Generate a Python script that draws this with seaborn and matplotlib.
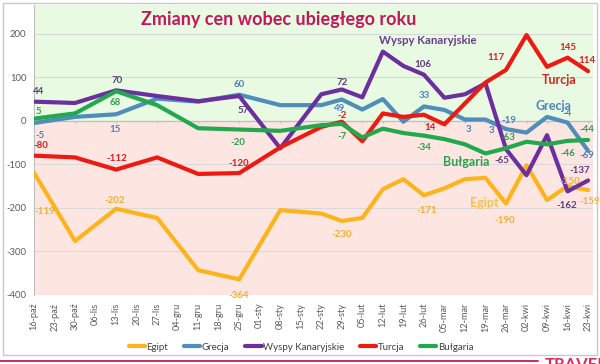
import numpy as np
import pandas as pd
import matplotlib
matplotlib.use("Agg")
import matplotlib.pyplot as plt
import seaborn as sns
from matplotlib.lines import Line2D
from matplotlib.patches import Rectangle

# ---------------- data ----------------
dates = ['16-paź', '23-paź', '30-paź', '06-lis', '13-lis', '20-lis', '27-lis', '04-gru',
         '11-gru', '18-gru', '25-gru', '01-sty', '08-sty', '15-sty', '22-sty', '29-sty',
         '05-lut', '12-lut', '19-lut', '26-lut', '05-mar', '12-mar', '19-mar', '26-mar',
         '02-kwi', '09-kwi', '16-kwi', '23-kwi']

obs_dates = ['16-paź', '30-paź', '13-lis', '27-lis', '11-gru', '25-gru', '08-sty', '22-sty',
             '29-sty', '05-lut', '12-lut', '19-lut', '26-lut', '05-mar', '12-mar', '19-mar',
             '26-mar', '02-kwi', '09-kwi', '16-kwi', '23-kwi']

egipt = [-119, -276, -202, -223, -343, -364, -205, -213, -230, -223, -157, -134, -171, -155,
         -134, -131, -190, -102, -182, -150, -159]
grecja = [-5, 9, 15, 51, 44, 60, 36, 36, 49, 26, 50, -2, 33, 25, 3, 3, -19, -27, 9, -4, -69]
wyspy = [44, 41, 70, 57, 45, 57, -63, 61, 72, 54, 159, 126, 106, 53, 61, 86, -65, -125, -33,
         -162, -137]
turcja = [-80, -84, -112, -84, -122, -120, -61, -14, -2, -47, 17, 9, 14, -8, 40, 88, 117, 197,
          124, 145, 114]
bulgaria = [5, 17, 68, 36, -17, -20, -23, -10, -7, -38, -18, -28, -34, -42, -54, -75, -63, -48,
            -54, -46, -44]

series_names = ['Egipt', 'Grecja', 'Wyspy Kanaryjskie', 'Turcja', 'Bułgaria']
y_ticks = [-400, -300, -200, -100, 0, 100, 200]

# ---------------- style ----------------
line_colors = {'Egipt': '#FDB41C', 'Grecja': '#4F8DBB', 'Wyspy Kanaryjskie': '#6B2FA0',
               'Turcja': '#EE1A12', 'Bułgaria': '#22A84E'}
label_colors = {'Egipt': '#F2AE2E', 'Grecja': '#4F7FBE', 'Wyspy Kanaryjskie': '#5B3D7C',
                'Turcja': '#D81E1E', 'Bułgaria': '#2E9E50'}

sns.set_style("white")
plt.rcParams['font.family'] = ['Lato', 'DejaVu Sans']

values = {'Egipt': egipt, 'Grecja': grecja, 'Wyspy Kanaryjskie': wyspy,
          'Turcja': turcja, 'Bułgaria': bulgaria}
x_pos = [dates.index(d) for d in obs_dates]
rows = []
for s in series_names:
    for xp, d, v in zip(x_pos, obs_dates, values[s]):
        rows.append({'x': xp, 'date': d, 'value': v, 'series': s})
df = pd.DataFrame(rows)

fig = plt.figure(figsize=(6, 3.64), dpi=100)
fig.patch.set_facecolor('white')
W, H = 600.0, 364.0
ax = fig.add_axes([34 / W, 1 - 295 / H, (593 - 34) / W, (295 - 5) / H])
ax.set_xlim(0, 27.24)
ax.set_ylim(-400, 266)

ax.axhspan(0, 266, color='#E8FAE2', zorder=0, lw=0)
ax.axhspan(-400, 0, color='#FDE6E1', zorder=0, lw=0)
for yt in y_ticks:
    ax.axhline(yt, color='#D9D9D9', lw=0.8, zorder=1)
ax.axhline(0, color='#BFBFBF', lw=0.9, zorder=1)
ax.vlines(x_pos, -6, 0, color='#BFBFBF', lw=0.8, zorder=1)

sns.lineplot(data=df, x='x', y='value', hue='series', palette=line_colors,
             hue_order=series_names, linewidth=3.0, estimator=None, sort=False,
             legend=False, ax=ax, zorder=3)

# data labels: (series, date, dx_px, dy_px)
label_spec = [
    ('Egipt', '16-paź', 11, 39), ('Egipt', '13-lis', -1, -8), ('Egipt', '25-gru', -1, 16),
    ('Egipt', '29-sty', 0, 14), ('Egipt', '26-lut', 3, 15), ('Egipt', '26-mar', -1, 17),
    ('Egipt', '16-kwi', 2, -5), ('Egipt', '23-kwi', 2, 11),
    ('Grecja', '16-paź', 6, 12), ('Grecja', '13-lis', -1, 15), ('Grecja', '25-gru', 0, -10),
    ('Grecja', '29-sty', -2, 9), ('Grecja', '26-lut', 0, -11), ('Grecja', '12-mar', 4, 10),
    ('Grecja', '19-mar', 6, 11), ('Grecja', '26-mar', 3, -9), ('Grecja', '16-kwi', 0, -9),
    ('Grecja', '23-kwi', -1, 5),
    ('Wyspy Kanaryjskie', '16-paź', 5, -10), ('Wyspy Kanaryjskie', '13-lis', 1, -10),
    ('Wyspy Kanaryjskie', '25-gru', 4, 14), ('Wyspy Kanaryjskie', '29-sty', 0, -7),
    ('Wyspy Kanaryjskie', '26-lut', -1, -10), ('Wyspy Kanaryjskie', '26-mar', -4, 11),
    ('Wyspy Kanaryjskie', '16-kwi', -1, 14), ('Wyspy Kanaryjskie', '23-kwi', -8, -10),
    ('Turcja', '16-paź', 7, -10), ('Turcja', '13-lis', 1, -11), ('Turcja', '25-gru', 0, -10),
    ('Turcja', '29-sty', 0, -6), ('Turcja', '26-lut', 6, 13), ('Turcja', '26-mar', -10, -12),
    ('Turcja', '16-kwi', 0, -10), ('Turcja', '23-kwi', -1, -11),
    ('Bułgaria', '16-paź', 4, -7), ('Bułgaria', '13-lis', -1, 11), ('Bułgaria', '25-gru', -1, 13),
    ('Bułgaria', '29-sty', 0, 13), ('Bułgaria', '26-lut', 0, 12), ('Bułgaria', '26-mar', 2, -11),
    ('Bułgaria', '16-kwi', 0, 13), ('Bułgaria', '23-kwi', -1, -10),
]
for s, d, dx, dy in label_spec:
    i = obs_dates.index(d)
    v = values[s][i]
    ax.annotate(str(v), (x_pos[i], v), xytext=(dx * 0.72, -dy * 0.72),
                textcoords='offset points', ha='center', va='center',
                fontsize=7, fontweight='bold', color=label_colors[s], zorder=5,
                annotation_clip=False)

# series name texts
name_pos = {'Wyspy Kanaryjskie': (428, 41, 8.2), 'Bułgaria': (466, 162, 9),
            'Egipt': (484, 203, 9), 'Turcja': (559, 80, 9), 'Grecja': (553, 106, 9)}
name_colors = {'Wyspy Kanaryjskie': '#6A3C91', 'Bułgaria': '#2E9E50', 'Egipt': '#F7C24A',
               'Turcja': '#D42222', 'Grecja': '#5282C2'}
for s, (px, py, fs) in name_pos.items():
    fig.text(px / W, 1 - py / H, s, ha='center', va='center', fontsize=fs,
             fontweight='bold', color=name_colors[s], zorder=6)

# axes styling
ax.set_yticks(y_ticks)
ax.set_yticklabels([str(t) for t in y_ticks])
ax.set_xticks(range(len(dates)))
ax.set_xticklabels(dates, rotation=90)
ax.tick_params(axis='x', length=0, pad=5.5, labelsize=6.6, labelcolor='#595959')
ax.tick_params(axis='y', length=2.5, width=0.8, color='#BFBFBF', pad=3,
               labelsize=6.8, labelcolor='#595959')
ax.set_xlabel('')
ax.set_ylabel('')
for sp in ['top', 'right', 'bottom']:
    ax.spines[sp].set_visible(False)
ax.spines['left'].set_color('#BFBFBF')
ax.spines['left'].set_linewidth(0.8)
ax.spines['left'].set_bounds(-400, 266)

# title
fig.text(279 / W, 1 - 20 / H, 'Zmiany cen wobec ubiegłego roku', ha='center', va='center',
         fontsize=13, fontweight='bold', color='#C2185B')

# legend
handles = [Line2D([0], [0], color=line_colors[s], lw=3) for s in series_names]
fig.legend(handles, series_names, loc='center', bbox_to_anchor=(301 / W, 1 - 347 / H),
           ncol=5, frameon=False, fontsize=7, handlelength=1.7, handletextpad=0.15,
           columnspacing=1.6, labelcolor='#404040')

# frame and bottom decoration
fig.add_artist(Rectangle((3 / W, 1 - 355 / H), 594 / W, 352 / H, transform=fig.transFigure,
                         fill=False, edgecolor='#C8C8C8', lw=1.0))
fig.add_artist(Line2D([0, 538 / W], [1 - 361 / H, 1 - 361 / H], transform=fig.transFigure,
                      color='#C0306E', lw=1.4))
fig.text(545 / W, 1 - 357 / H, 'TRAVEL', ha='left', va='top', fontsize=12,
         fontweight='bold', color='#D42E62')

fig.savefig('out.png', dpi=100)
